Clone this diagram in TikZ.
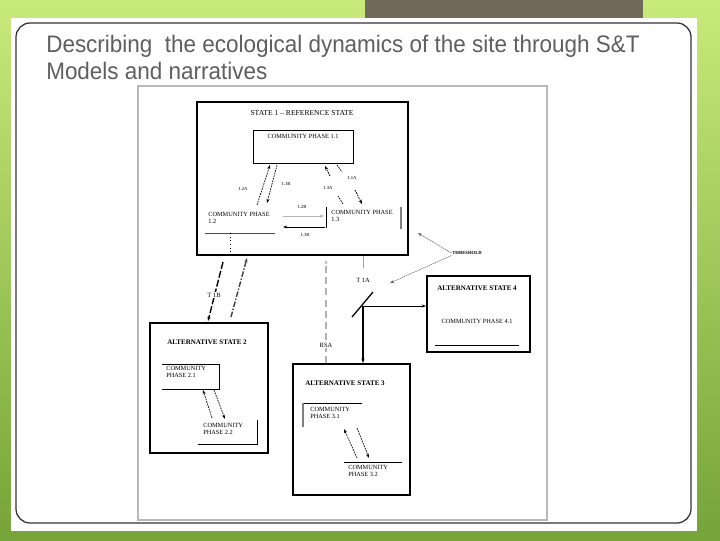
\documentclass[tikz,border=0pt]{standalone}
\usepackage{fontspec}
\setmainfont{Liberation Serif}
\newfontfamily\titlefont[FakeStretch=0.94]{Liberation Sans}
\usetikzlibrary{arrows.meta,fit}

\definecolor{slidegreenA}{RGB}{200,234,122}
\definecolor{slidegreenB}{RGB}{118,164,56}
\definecolor{barbrown}{RGB}{114,105,91}
\definecolor{titlegray}{RGB}{95,95,95}

\begin{document}
\begin{tikzpicture}[
  x={(0.025cm,0cm)}, y={(0cm,-0.025cm)},
  >={Stealth[length=3pt,width=2.2pt]},
  statebox/.style={draw=black, line width=1.5pt, inner sep=0pt},
  phasebox/.style={draw=black, line width=0.5pt, inner sep=0pt},
  edge/.style={draw=black, line width=0.5pt},
  stitle/.style={font=\bfseries\fontsize{5}{6}\selectfont, inner sep=0pt},
  ptext/.style={font=\fontsize{4.5}{5.2}\selectfont, inner sep=0pt, align=left, anchor=north west},
  tlab/.style={font=\bfseries\fontsize{3.3}{4}\selectfont, inner sep=0.5pt, text=black!70},
  blab/.style={font=\fontsize{4.6}{5}\selectfont, inner sep=0.8pt, fill=white},
  dpath/.style={->, line width=0.5pt, dash pattern=on 1.2pt off 0.7pt},
  tpath/.style={->, line width=1pt},
]

% ------------------------------------------------------------------
% slide: background, bar, panel, title
% ------------------------------------------------------------------
\shade[top color=slidegreenA, bottom color=slidegreenB] (0,0) rectangle (720,540);
\fill[barbrown] (365,0) rectangle (643,18);
\fill[white] (11,18) rectangle (697,531);
\draw[black!80, line width=0.9pt, rounded corners=10pt] (16,23) rectangle (691,523);

\node[inner sep=0pt, anchor=base west, text=titlegray,
      font=\titlefont\fontsize{17}{20}\selectfont] (title1) at (46,52)
     {Describing\ \ the ecological dynamics of the site through S\&T};
\node[inner sep=0pt, anchor=base west, text=titlegray,
      font=\titlefont\fontsize{17}{20}\selectfont] (title2) at (46,79)
     {Models and narratives};

% the pasted figure
\draw[gray!55, line width=1.6pt, fill=white] (138,86) rectangle (547,520);

% ------------------------------------------------------------------
% State 1
% ------------------------------------------------------------------
\node[statebox, fit={(197,102) (408,255)}] (s1) {};
\node[stitle, font=\fontsize{5.4}{6}\selectfont] (s1t) at (302,113) {STATE 1 -- REFERENCE STATE};

\node[phasebox, fit={(253,130) (353,163)}] (p11) {};
\node[ptext, anchor=north] (p11t) at (303,134) {COMMUNITY PHASE 1.1};

\node[ptext] (p12t) at (208,212) {COMMUNITY PHASE\\1.2};
\draw[edge, black!70] (205,233) -- (275,233);
\coordinate (p12d) at (230,233);
\draw[line width=0.6pt, dotted] (p12d) -- (p12d |- s1.south);

\node[ptext] (p13t) at (331,210) {COMMUNITY PHASE\\1.3};
\draw[edge] (326,207) -- (326,228);
\draw[gray, line width=1pt] (401,207) -- (401,229);

% pathways inside state 1
\coordinate (a12A) at (257,205); \coordinate (b12A) at (270,165);
\coordinate (a11B) at (277,165); \coordinate (b11B) at (267,203);
\coordinate (a13A) at (343,204); \coordinate (c13A) at (338,196);
\coordinate (d13A) at (330,176); \coordinate (b13A) at (325,166);
\coordinate (a11A) at (337,165); \coordinate (c11A) at (342,172);
\coordinate (d11A) at (355,190); \coordinate (b11A) at (362,204);
\coordinate (a12B) at (283,216); \coordinate (b12B) at (324,216);
\coordinate (a13B) at (325,227); \coordinate (b13B) at (283,227);

\draw[dpath] (a12A) -- (b12A);
\draw[dpath] (a11B) -- (b11B);
\draw[dpath, -] (a13A) -- (c13A);
\draw[dpath] (d13A) -- (b13A);
\draw[dpath, -] (a11A) -- (c11A);
\draw[dpath] (d11A) -- (b11A);
\draw[->, gray!60, line width=0.6pt] (a12B) -- (b12B);
\draw[->, line width=0.7pt] (a13B) -- (b13B);

\node[tlab] (l12A) at (243,189) {1.2A};
\node[tlab] (l11B) at (286,184) {1.1B};
\node[tlab] (l13A) at (328,188) {1.3A};
\node[tlab] (l11A) at (352,178) {1.1A};
\node[tlab] (l12B) at (302,207) {1.2B};
\node[tlab] (l13B) at (305,235) {1.3B};

% ------------------------------------------------------------------
% State 2
% ------------------------------------------------------------------
\node[statebox, fit={(150,323) (268,453)}] (s2) {};
\node[stitle] (s2t) at (207,342) {ALTERNATIVE STATE 2};

\node[ptext] (p21t) at (166,366) {COMMUNITY\\PHASE 2.1};
\draw[edge] (162,364) -- (219,364) -- (219,389) -- (162,389);
\node[ptext] (p22t) at (203,423) {COMMUNITY\\PHASE 2.2};
\draw[edge] (257,420) -- (257,444) -- (198,444);

\coordinate (a21) at (212,418); \coordinate (b21) at (203,390);
\coordinate (a22) at (214,390); \coordinate (b22) at (225,419);
\draw[dpath] (a21) -- (b21);
\draw[dpath] (a22) -- (b22);

% ------------------------------------------------------------------
% State 3
% ------------------------------------------------------------------
\node[statebox, fit={(293,364) (410,495)}] (s3) {};
\node[stitle, anchor=west] (s3t) at (305,383) {ALTERNATIVE STATE 3};

\node[ptext] (p31t) at (310,407) {COMMUNITY\\PHASE 3.1};
\draw[edge] (303,403) -- (362,403);
\draw[gray, line width=1.1pt] (303,403) -- (303,427);
\node[ptext] (p32t) at (348,465) {COMMUNITY\\PHASE 3.2};
\draw[edge] (344,462) -- (402,462);

\coordinate (a31) at (357,458); \coordinate (b31) at (344,429);
\coordinate (a32) at (357,428); \coordinate (b32) at (369,458);
\draw[dpath] (a31) -- (b31);
\draw[dpath] (a32) -- (b32);

% ------------------------------------------------------------------
% State 4
% ------------------------------------------------------------------
\node[statebox, fit={(427,276) (530,352)}] (s4) {};
\node[stitle] (s4t) at (477,288) {ALTERNATIVE STATE 4};
\node[ptext, anchor=center] (p41t) at (477,321) {COMMUNITY PHASE 4.1};
\draw[edge] (435,345) -- (519,345);

% ------------------------------------------------------------------
% transitions and restorations between states
% ------------------------------------------------------------------
\coordinate (t1Ba) at (223,262); \coordinate (t1Bb) at (208,321);
\coordinate (r2a)  at (231,317); \coordinate (r2b)  at (247,258);
\draw[tpath, dash pattern=on 5pt off 1.5pt] (t1Ba) -- (t1Bb);
\draw[tpath, black!75, dash pattern=on 4pt off 1.2pt on 1pt off 1.2pt] (r2a) -- (r2b);
\node[blab] (lT1B) at (214,295) {T 1B};

\coordinate (rsa) at (326,260);
\draw[tpath, gray!60, dash pattern=on 5pt off 3pt] (s3.north -| rsa) -- (rsa);
\node[blab] (lRSA) at (326,345) {RSA};

\coordinate (t1Ac) at (363,268);
\coordinate (t1Ab) at (363,306);
\draw[gray!70, line width=0.6pt] (s1.south -| t1Ac) -- (t1Ac);
\node[blab] (lT1A) at (363,280) {T 1A};
\draw[tpath] (t1Ab) -- (s3.north -| t1Ab);
\draw[->, line width=0.6pt] (t1Ab) -- (s4.west |- t1Ab);
\draw[line width=0.9pt] (352,317) -- (373,292);

\node[tlab, text=black] (thr) at (467,253) {THRESHOLD};
\coordinate (th1) at (418,233);
\coordinate (th2) at (390,283);
\draw[->, black!60, line width=0.4pt, dash pattern=on 1pt off 0.5pt] (thr.west) -- (th1);
\draw[->, black!60, line width=0.4pt, dash pattern=on 1pt off 0.5pt] (thr.south west) -- (th2);
\end{tikzpicture}
\end{document}
